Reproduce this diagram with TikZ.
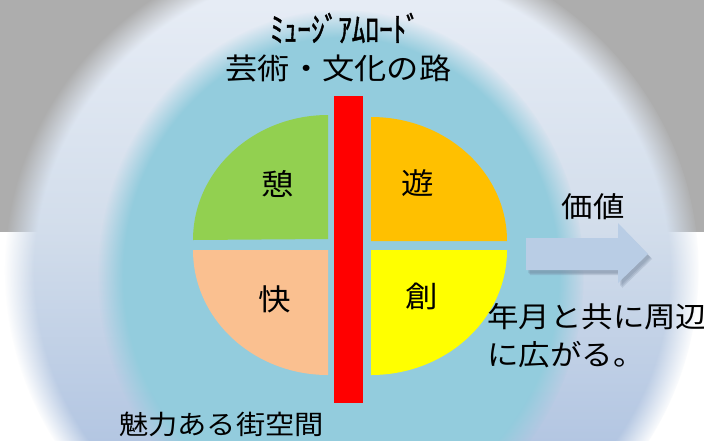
\documentclass[tikz,border=0pt]{standalone}
\usepackage{fontspec}
\usetikzlibrary{fadings}
\newfontfamily\jp[FakeStretch=1.1]{Noto Sans CJK JP}
\newfontfamily\jpk[FakeStretch=0.8, FakeBold=1.2]{Noto Sans CJK JP}
\definecolor{bggray}{HTML}{ADADAD}
\definecolor{ringA}{HTML}{E6ECF5}
\definecolor{ringM}{HTML}{D2DDEB}
\definecolor{ringB}{HTML}{B3C6E2}
\definecolor{skyin}{HTML}{93CCDD}
\definecolor{qgreen}{HTML}{92D050}
\definecolor{qorange}{HTML}{FFC000}
\definecolor{qpeach}{HTML}{FAC090}
\definecolor{qyellow}{HTML}{FFFF00}
\definecolor{arrowblue}{HTML}{B9CDE5}
\definecolor{arrowshadow}{HTML}{6F8097}
\pgfdeclareradialshading{outersoftsh}{\pgfpointorigin}{color(0bp)=(pgftransparent!0); color(22.8bp)=(pgftransparent!0); color(25bp)=(pgftransparent!100); color(50bp)=(pgftransparent!100)}
\pgfdeclarefading{outersoft}{\pgfuseshading{outersoftsh}}
\pgfdeclareradialshading{innersoftsh}{\pgfpointorigin}{color(0bp)=(pgftransparent!0); color(22.3bp)=(pgftransparent!0); color(25bp)=(pgftransparent!100); color(50bp)=(pgftransparent!100)}
\pgfdeclarefading{innersoft}{\pgfuseshading{innersoftsh}}
\pgfdeclareverticalshading{ringshade}{100bp}{color(0bp)=(ringB); color(37bp)=(ringB); color(53bp)=(ringM); color(70bp)=(ringA); color(100bp)=(ringA)}
\begin{document}
\begin{tikzpicture}[x=1pt,y=-1pt,
  jptext/.style={inner sep=0pt, text=black},
  bigjp/.style={jptext, font=\jp\fontsize{29.5}{30}\selectfont},
  arrowshape/.style={fill=arrowblue}]
\useasboundingbox (0,0) rectangle (704,440);
\begin{scope}
\clip (0,0) rectangle (704,440);
% background
\fill[bggray] (0,0) rectangle (704,232);
\fill[white] (0,232) rectangle (704,440);
% soft halo
\shade[shading=ringshade, path fading=outersoft, fit fading=true] (352,270) ellipse[x radius=347, y radius=331];
\fill[skyin, path fading=innersoft, fit fading=true] (341,275) ellipse[x radius=243, y radius=265];
% quarters
\fill[qgreen] (328,239) -- (193,240) arc[start angle=180, end angle=270, x radius=135, y radius=125] -- cycle;
\fill[qorange] (371,241) -- (371,117) arc[start angle=270, end angle=360, x radius=136, y radius=124] -- cycle;
\fill[qpeach] (328,250) -- (193,250) arc[start angle=180, end angle=90, x radius=135, y radius=125] -- cycle;
\fill[qyellow] (371,250) -- (507,250) arc[start angle=0, end angle=90, x radius=136, y radius=125] -- cycle;
% red road
\fill[red] (334,96) rectangle (363,403);
% arrow shadow and arrow
\foreach \dx/\dy in {2/3,3/4,4/5}{
  \fill[arrowshadow, opacity=0.22, shift={(\dx,\dy)}] (526,238) -- (618,238) -- (618,223) -- (648,254) -- (618,283) -- (618,270) -- (526,270) -- cycle;
}
\fill[arrowshape] (526,238) -- (618,238) -- (618,223) -- (648,254) -- (618,283) -- (618,270) -- (526,270) -- cycle;
% texts
\node[jptext, font=\jpk\fontsize{34}{36}\selectfont] (museum) at (345,28) {ﾐｭｰｼﾞｱﾑﾛｰﾄﾞ};
\node[jptext, font=\jp\fontsize{29.3}{30}\selectfont] (title) at (338.5,68.5) {芸術・文化の路};
\node[bigjp] (kei) at (278,183.5) {憩};
\node[bigjp] (yu) at (418,183.5) {遊};
\node[bigjp] (kai) at (274.5,299.5) {快};
\node[bigjp] (so) at (421.5,296) {創};
\node[jptext, font=\jp\fontsize{28.5}{30}\selectfont] (kachi) at (593,206.5) {価値};
\node[jptext, font=\jp\fontsize{28.6}{38}\selectfont, align=left, anchor=west] (spread) at (487,335.5) {年月と共に周辺\\に広がる。};
\node[jptext, font=\jp\fontsize{26.6}{30}\selectfont] (street) at (221.5,424.5) {魅力ある街空間};
\end{scope}
\end{tikzpicture}
\end{document}
